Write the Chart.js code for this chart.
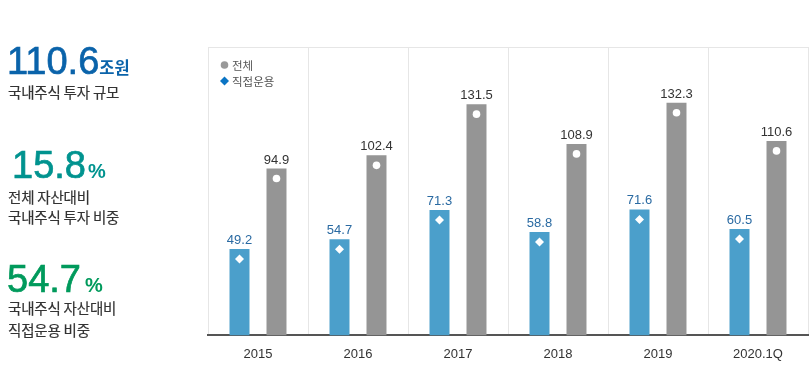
<!DOCTYPE html>
<html><head><meta charset="utf-8">
<script src="https://cdn.jsdelivr.net/npm/chart.js@4"></script>
<style>
html,body{margin:0;padding:0;background:#fff;}
#wrap{position:relative;width:810px;height:378px;overflow:hidden;}
#c{position:absolute;left:0;top:0;}
.t{position:absolute;white-space:nowrap;font-family:"Noto Sans CJK KR","Noto Sans",sans-serif;}
.big{font-family:"Liberation Sans",Arial,sans-serif;font-size:38px;line-height:38px;letter-spacing:0;-webkit-text-stroke:0.7px currentColor;}
.unit{font-family:"Noto Sans CJK KR",sans-serif;font-weight:bold;font-size:16.5px;-webkit-text-stroke:0;}
.pct{font-family:"Liberation Sans",Arial,sans-serif;font-weight:bold;font-size:20px;-webkit-text-stroke:0;}
.desc{font-size:14.5px;line-height:20px;color:#333;letter-spacing:-0.2px;-webkit-text-stroke:0.2px #333;}
.leg{font-size:11.5px;line-height:14px;color:#555;}
</style></head>
<body><div id="wrap">
<canvas id="c" width="810" height="378"></canvas>
<div class="t big" style="left:7px;top:42px;color:#0a63aa;">110.6<span class="unit" style="margin-left:0">조원</span></div>
<div class="t desc" style="left:8px;top:82px;">국내주식 투자 규모</div>
<div class="t big" style="left:12px;top:146px;color:#00938f;">15.8<span class="pct" style="margin-left:2px">%</span></div>
<div class="t desc" style="left:8px;top:187px;">전체 자산대비<br>국내주식 투자 비중</div>
<div class="t big" style="left:7px;top:260px;color:#009a5c;">54.7<span class="pct" style="margin-left:4px">%</span></div>
<div class="t desc" style="left:8px;top:297px;line-height:22px;">국내주식 자산대비<br>직접운용 비중</div>
<div class="t leg" style="left:232px;top:58px;">전체</div>
<div class="t leg" style="left:232px;top:74px;">직접운용</div>
</div>
<script>
const categories = ["2015","2016","2017","2018","2019","2020.1Q"];
const directValues = [49.2, 54.7, 71.3, 58.8, 71.6, 60.5];
const totalValues = [94.9, 102.4, 131.5, 108.9, 132.3, 110.6];
const seriesNames = ["직접운용", "전체"];

const BLUE = "#4b9fcb", GRAY = "#959595";

const overlay = {
  id: "overlay",
  afterDraw(chart) {
    const ctx = chart.ctx, a = chart.chartArea;
    ctx.save();
    ctx.strokeStyle = "#e6e6e6"; ctx.lineWidth = 1;
    ctx.beginPath(); ctx.moveTo(a.left, Math.round(a.top) + 0.5); ctx.lineTo(a.right, Math.round(a.top) + 0.5); ctx.stroke();
    ctx.fillStyle = "#999999";
    ctx.beginPath(); ctx.arc(224.5, 65, 3.8, 0, Math.PI * 2); ctx.fill();
    ctx.fillStyle = "#0a74c4";
    ctx.beginPath(); ctx.moveTo(224.5, 76.5); ctx.lineTo(229, 81); ctx.lineTo(224.5, 85.5); ctx.lineTo(220, 81); ctx.closePath(); ctx.fill();
    ctx.font = "13px 'Liberation Sans', Arial, sans-serif";
    ctx.textAlign = "center"; ctx.textBaseline = "alphabetic";
    chart.data.datasets.forEach((ds, di) => {
      const meta = chart.getDatasetMeta(di);
      meta.data.forEach((bar, i) => {
        const v = ds.data[i];
        ctx.fillStyle = di === 0 ? "#2a6aa2" : "#333333";
        ctx.fillText(v.toFixed(1), bar.x, bar.y - 5);
        ctx.fillStyle = "#ffffff";
        const my = bar.y + 10;
        if (di === 0) {
          ctx.beginPath(); ctx.moveTo(bar.x, my - 4.5); ctx.lineTo(bar.x + 4.5, my); ctx.lineTo(bar.x, my + 4.5); ctx.lineTo(bar.x - 4.5, my); ctx.closePath(); ctx.fill();
        } else {
          ctx.beginPath(); ctx.arc(bar.x, my, 3.8, 0, Math.PI * 2); ctx.fill();
        }
      });
    });
    ctx.restore();
  }
};

new Chart(document.getElementById("c"), {
  type: "bar",
  data: {
    labels: categories,
    datasets: [
      { label: seriesNames[0], data: directValues, backgroundColor: BLUE, categoryPercentage: 0.74, barPercentage: 0.54 },
      { label: seriesNames[1], data: totalValues, backgroundColor: GRAY, categoryPercentage: 0.74, barPercentage: 0.54 }
    ]
  },
  options: {
    responsive: false,
    animation: false,
    devicePixelRatio: 1,
    layout: { padding: { left: 208, right: 2, top: 47, bottom: 5 } },
    plugins: { legend: { display: false }, tooltip: { enabled: false } },
    scales: {
      x: {
        grid: { color: "#e6e6e6", lineWidth: 1, drawTicks: false, offset: true },
        border: { color: "#555555", width: 2 },
        ticks: { color: "#333333", font: { family: "'Liberation Sans', Arial, sans-serif", size: 13 }, padding: 11 }
      },
      y: { display: false, min: 0, max: 164 }
    }
  },
  plugins: [overlay]
});
</script>
</body></html>
